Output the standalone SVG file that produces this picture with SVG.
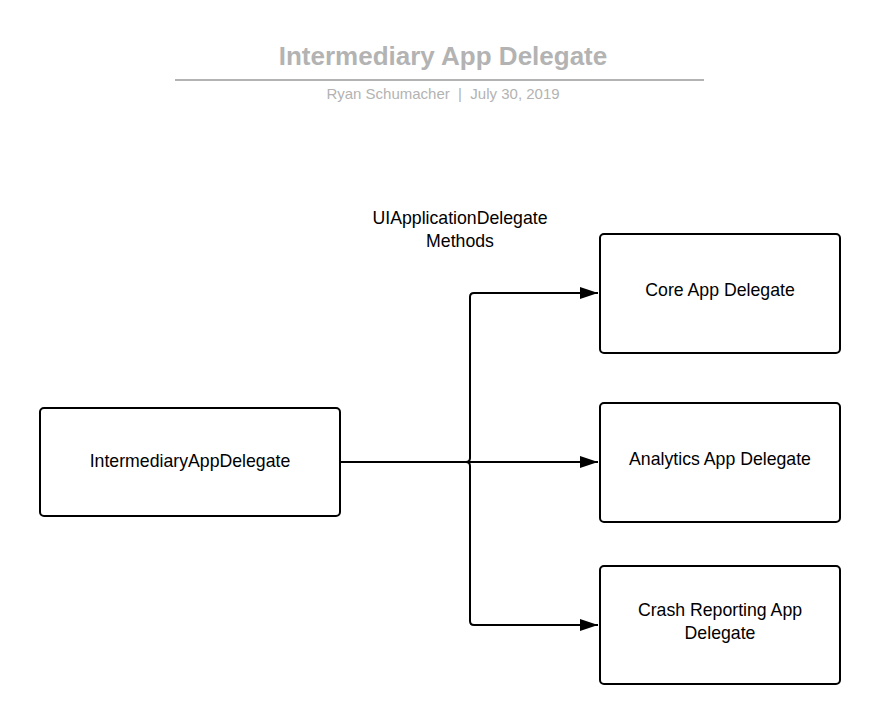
<svg xmlns="http://www.w3.org/2000/svg" width="881" height="725" viewBox="0 0 881 725">
<style>
.node{fill:#fff;stroke:#000;stroke-width:2}
.t{font-family:"Liberation Sans",Arial,sans-serif;font-size:17.7px;fill:#000;text-anchor:middle}
.c{fill:none;stroke:#000;stroke-width:2}
</style>
<defs>
<marker id="ah" markerWidth="18" markerHeight="12" refX="18" refY="6" orient="auto" markerUnits="userSpaceOnUse">
<path d="M0,0 L18,6 L0,12 Z" fill="#000"/>
</marker>
</defs>
<rect width="881" height="725" fill="#fff"/>
<g id="title">
<text x="443" y="65" font-family="Liberation Sans,Arial,sans-serif" font-size="26" font-weight="bold" fill="#b3b3b3" text-anchor="middle">Intermediary App Delegate</text>
<line x1="175" y1="80" x2="704" y2="80" stroke="#b3b3b3" stroke-width="2"/>
<text x="443" y="99" font-family="Liberation Sans,Arial,sans-serif" font-size="15" fill="#b3b3b3" text-anchor="middle" xml:space="preserve">Ryan Schumacher  |  July 30, 2019</text>
</g>
<g id="connectors">
<path class="c" d="M340,462 H466 Q470,462 470,458 V297 Q470,293 474,293 H598" marker-end="url(#ah)"/>
<path class="c" d="M466,462 H598" marker-end="url(#ah)"/>
<path class="c" d="M466,462 Q470,462 470,466 V621 Q470,625 474,625 H598" marker-end="url(#ah)"/>
<text class="t" x="460" y="224">UIApplicationDelegate</text>
<text class="t" x="460" y="247">Methods</text>
</g>
<g id="intermediary">
<rect class="node" x="40" y="408" width="300" height="108" rx="4"/>
<text class="t" x="190" y="467">IntermediaryAppDelegate</text>
</g>
<g id="core">
<rect class="node" x="600" y="234" width="240" height="119" rx="4"/>
<text class="t" x="720" y="296">Core App Delegate</text>
</g>
<g id="analytics">
<rect class="node" x="600" y="403" width="240" height="119" rx="4"/>
<text class="t" x="720" y="465">Analytics App Delegate</text>
</g>
<g id="crash">
<rect class="node" x="600" y="566" width="240" height="118" rx="4"/>
<text class="t" x="720" y="616">Crash Reporting App</text>
<text class="t" x="720" y="639">Delegate</text>
</g>
</svg>
